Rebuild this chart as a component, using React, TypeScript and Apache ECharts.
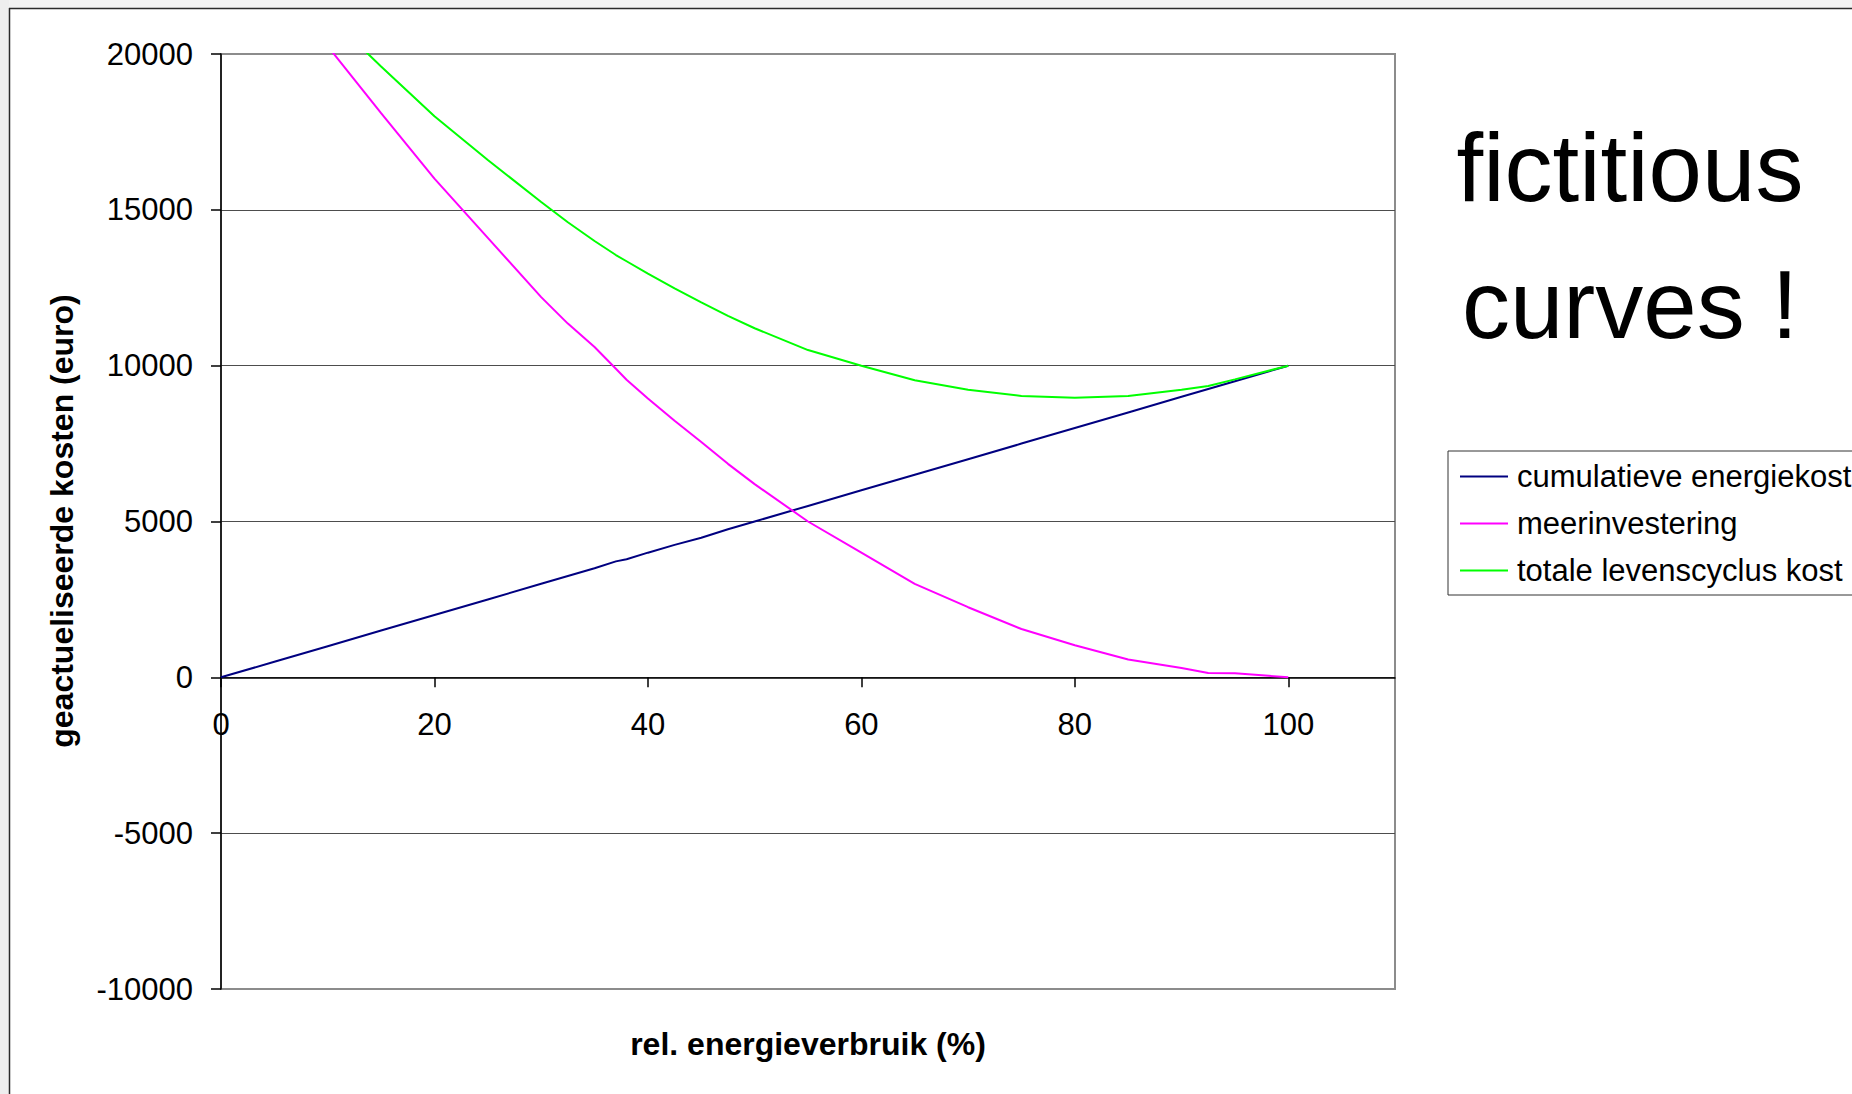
import React, { useEffect, useRef } from "react";
import * as echarts from "echarts";

// x: relative energy use (%)
const xValues = [0, 5, 10, 15, 20, 25, 30, 32.5, 35, 37, 38, 40, 42.5, 45, 47.5, 50, 55, 60, 65, 70, 75, 80, 85, 90, 92.5, 95, 100];
// cumulatieve energiekost
const energyCost = [0, 500, 1000, 1500, 2000, 2500, 3000, 3250, 3500, 3720, 3790, 4000, 4250, 4480, 4750, 5000, 5500, 6000, 6500, 7000, 7500, 8000, 8500, 9000, 9250, 9500, 10000];
// meerinvestering
const extraInvestment = [null, null, 20250, 18100, 16000, 14100, 12200, 11350, 10600, 9900, 9550, 8950, 8230, 7550, 6850, 6200, 5000, 4000, 3000, 2250, 1550, 1030, 570, 300, 140, 130, 0];
// totale levenscyclus kost
const totalCost = [null, null, 21250, 19600, 18000, 16600, 15250, 14600, 14000, 13550, 13350, 12950, 12480, 12030, 11600, 11200, 10500, 10000, 9530, 9230, 9030, 8970, 9030, 9230, 9350, 9560, 10000];

const seriesNames = ["cumulatieve energiekost", "meerinvestering", "totale levenscyclus kost"];
const seriesColors = ["#000080", "#FF00FF", "#00FF00"];
const xTickValues = [0, 20, 40, 60, 80, 100];

const FONT = "'Liberation Sans', Arial, Helvetica, sans-serif";

const GRID_TOP = 54;
const GRID_HEIGHT = 935;
const Y_MIN = -10000;
const Y_MAX = 20000;

function pairs(vals: (number | null)[]) {
  const out: number[][] = [];
  xValues.forEach((x, i) => {
    const v = vals[i];
    if (v !== null && v !== undefined) out.push([x, v]);
  });
  return out;
}

export default function App() {
  const ref = useRef<HTMLDivElement>(null);
  useEffect(() => {
    if (!ref.current) return;
    const chart = echarts.init(ref.current, null, { renderer: "svg" });
    const allSeries = [energyCost, extraInvestment, totalCost];
    // distance from the grid bottom up to the y = 0 line
    const zeroOffset = (GRID_HEIGHT * (0 - Y_MIN)) / (Y_MAX - Y_MIN);
    chart.setOption({
      animation: false,
      backgroundColor: "#ffffff",
      textStyle: { fontFamily: FONT },
      grid: {
        left: 221,
        top: GRID_TOP,
        width: 1174,
        height: GRID_HEIGHT,
        show: true,
        backgroundColor: "#ffffff",
        borderColor: "#8c8c8c",
        borderWidth: 2,
      },
      legend: {
        orient: "vertical",
        left: 1448,
        top: 451,
        padding: [10, 10, 9, 12],
        icon: "rect",
        itemWidth: 48,
        itemHeight: 2,
        itemGap: 16,
        borderColor: "#333333",
        borderWidth: 1,
        backgroundColor: "#ffffff",
        textStyle: { fontSize: 31, color: "#000", fontFamily: FONT, padding: [0, 0, 0, 4] },
        data: seriesNames,
      },
      xAxis: {
        type: "value",
        min: 0,
        max: 110,
        interval: 20,
        position: "bottom",
        offset: -zeroOffset,
        axisLine: { onZero: false, lineStyle: { color: "#000", width: 1.5 } },
        axisTick: { show: true, length: 10, customValues: xTickValues, lineStyle: { color: "#000", width: 1.5 } },
        axisLabel: {
          fontSize: 31,
          color: "#000",
          margin: 32,
          fontFamily: FONT,
          formatter: (v: number) => (xTickValues.indexOf(v) >= 0 ? String(v) : ""),
        },
        splitLine: { show: false },
      },
      yAxis: {
        type: "value",
        min: Y_MIN,
        max: Y_MAX,
        interval: 5000,
        axisLine: { show: true, onZero: false, lineStyle: { color: "#000", width: 1.5 } },
        axisTick: { show: true, length: 10, lineStyle: { color: "#000", width: 1.5 } },
        axisLabel: { fontSize: 31, color: "#000", margin: 28, fontFamily: FONT, formatter: (v: number) => String(v) },
        splitLine: { show: true, showMinLine: false, showMaxLine: false, lineStyle: { color: "#4d4d4d", width: 1.2 } },
      },
      series: allSeries.map((vals, i) => ({
        name: seriesNames[i],
        type: "line",
        data: pairs(vals),
        symbol: "none",
        clip: true,
        lineStyle: { color: seriesColors[i], width: 2 },
        itemStyle: { color: seriesColors[i] },
        z: 3 + i,
      })),
      graphic: [
        { type: "rect", shape: { x: 0, y: 0, width: 1852, height: 8 }, style: { fill: "#f2f2f2" }, silent: true },
        { type: "rect", shape: { x: 0, y: 0, width: 9, height: 1094 }, style: { fill: "#eeeeee" }, silent: true },
        { type: "line", shape: { x1: 9, y1: 8.5, x2: 1852, y2: 8.5 }, style: { stroke: "#2a2a2a", lineWidth: 1.5 }, silent: true },
        { type: "line", shape: { x1: 9.5, y1: 8, x2: 9.5, y2: 1094 }, style: { stroke: "#2a2a2a", lineWidth: 1.5 }, silent: true },
        {
          type: "text",
          x: 1630,
          y: 167,
          style: { text: "fictitious", fontSize: 96, fontFamily: FONT, fill: "#000", align: "center", verticalAlign: "middle" },
        },
        {
          type: "text",
          x: 1630,
          y: 304,
          style: { text: "curves !", fontSize: 96, fontFamily: FONT, fill: "#000", align: "center", verticalAlign: "middle" },
        },
        {
          type: "text",
          x: 808,
          y: 1044,
          style: { text: "rel. energieverbruik (%)", fontSize: 32, fontWeight: "bold", fontFamily: FONT, fill: "#000", align: "center", verticalAlign: "middle" },
        },
        {
          type: "text",
          x: 62,
          y: 521,
          rotation: Math.PI / 2,
          style: { text: "geactueliseerde kosten (euro)", fontSize: 32, fontWeight: "bold", fontFamily: FONT, fill: "#000", align: "center", verticalAlign: "middle" },
        },
      ],
    });
    return () => chart.dispose();
  }, []);
  return (
    <div
      ref={ref}
      style={{ position: "fixed", left: 0, top: 0, width: 1852, height: 1094 }}
    />
  );
}
